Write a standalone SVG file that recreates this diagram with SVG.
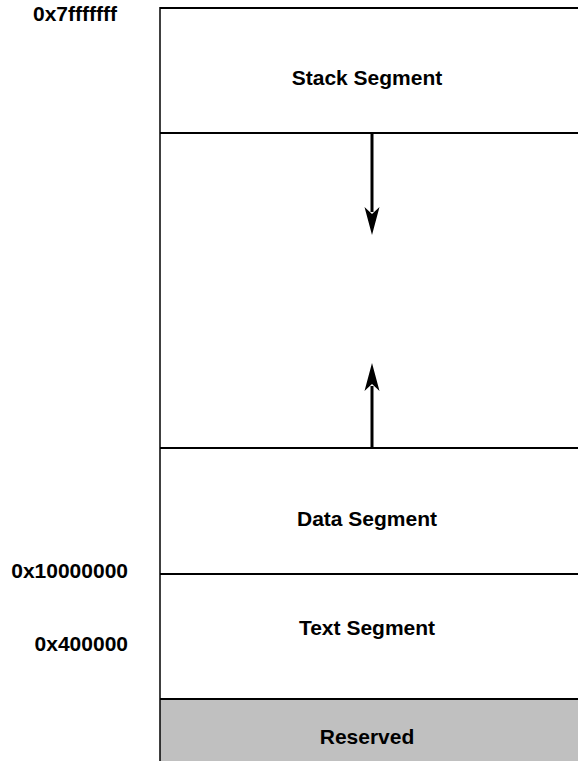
<svg xmlns="http://www.w3.org/2000/svg" width="578" height="761" viewBox="0 0 578 761">
<style>
text{font-family:"Liberation Sans",Arial,sans-serif;font-weight:bold;font-size:21px;fill:#000}
.seg{text-anchor:middle}
.addr{text-anchor:end}
.ln{stroke:#000;stroke-width:2;fill:none}
</style>
<rect x="0" y="0" width="578" height="761" fill="#fff"/>
<g id="reserved">
<rect x="160" y="699" width="418" height="62" fill="#c0c0c0"/>
<text class="seg" x="367" y="744">Reserved</text>
</g>
<g id="stack">
<text class="seg" x="367" y="85">Stack Segment</text>
</g>
<g id="data">
<text class="seg" x="367" y="526">Data Segment</text>
</g>
<g id="text">
<text class="seg" x="367" y="635">Text Segment</text>
</g>
<g id="frame">
<line class="ln" x1="160" y1="8" x2="578" y2="8"/>
<line class="ln" x1="160" y1="133" x2="578" y2="133"/>
<line class="ln" x1="160" y1="448" x2="578" y2="448"/>
<line class="ln" x1="160" y1="574" x2="578" y2="574"/>
<line class="ln" x1="160" y1="699" x2="578" y2="699"/>
<line x1="160" y1="7" x2="160" y2="761" stroke="#000" stroke-width="1.5"/>
</g>
<g id="labels">
<text x="33" y="21">0x7fffffff</text>
<text class="addr" x="128" y="578">0x10000000</text>
<text class="addr" x="128" y="651">0x400000</text>
</g>
<g id="connectors">
<line x1="372" y1="133" x2="372" y2="212" stroke="#000" stroke-width="3"/>
<polygon points="364.5,207 372,235 379.5,207 372,214" fill="#000"/>
<line x1="372" y1="448" x2="372" y2="386" stroke="#000" stroke-width="3"/>
<polygon points="364.5,391 372,363 379.5,391 372,384" fill="#000"/>
</g>
</svg>
